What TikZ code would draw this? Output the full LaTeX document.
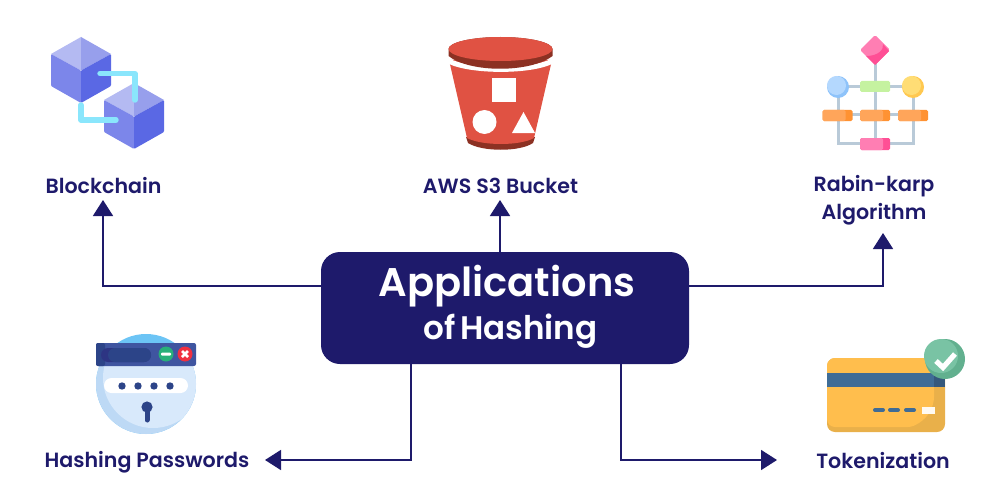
\documentclass[tikz,border=0pt]{standalone}
\usepackage{fontspec}
\setmainfont{Poppins}[BoldFont=Poppins SemiBold]
\usetikzlibrary{arrows.meta,positioning}
\definecolor{navy}{HTML}{1E1A6B}
\definecolor{cubetop}{HTML}{B4BAF2}
\definecolor{cubetopd}{HTML}{979FEC}
\definecolor{cubeleft}{HTML}{7C86EA}
\definecolor{cuberight}{HTML}{5A68E4}
\definecolor{linkblue}{HTML}{8AE6FC}
\definecolor{bucket}{HTML}{E05243}
\definecolor{bucketd}{HTML}{8C3123}
\definecolor{flowline}{HTML}{B9CAD8}
\definecolor{flowpink}{HTML}{FF7EB3}
\definecolor{flowpinkd}{HTML}{FF4F95}
\definecolor{floworange}{HTML}{FFA55A}
\definecolor{floworanged}{HTML}{FF9232}
\definecolor{flowgreen}{HTML}{C5F2A0}
\definecolor{flowblue}{HTML}{B4D8FE}
\definecolor{flowblued}{HTML}{8EC3FA}
\definecolor{flowyellow}{HTML}{FFDD75}
\definecolor{flowyellowd}{HTML}{FFC850}
\definecolor{shield}{HTML}{D8E9FB}
\definecolor{shieldd}{HTML}{BDD9F5}
\definecolor{skyblue}{HTML}{6CC4F5}
\definecolor{barblue}{HTML}{3F55A0}
\definecolor{bardark}{HTML}{2C4488}
\definecolor{cardy}{HTML}{FFBE4D}
\definecolor{cardyd}{HTML}{E9B04A}
\definecolor{stripe}{HTML}{3F6C96}
\definecolor{stripd}{HTML}{35587C}
\definecolor{okgreen}{HTML}{79C3A4}
\definecolor{okgreend}{HTML}{62B08F}
\definecolor{btngreen}{HTML}{27B07A}
\definecolor{btnred}{HTML}{F03040}
\tikzset{
  apptag/.style={text=navy,font=\fontsize{20.6}{28.5}\selectfont\bfseries,align=center,inner sep=0pt},
  hashbox/.style={fill=navy,rounded corners=19pt,minimum width=368pt,minimum height=112pt,inner sep=0pt},
  conn/.style={draw=navy,line width=1.7pt,-{Triangle[length=16pt,width=20pt]}},
  flowbar/.style={line width=3pt,draw=flowline},
  chainlink/.style={draw=linkblue,line width=5.4pt,line cap=round,line join=round},
}
\begin{document}
\begin{tikzpicture}[x=1pt,y=-1pt]
\useasboundingbox (0,0) rectangle (1000,500);

% the centre box
\node[hashbox] (hash) at (505,308) {};
\node[text=white,font=\fontsize{40}{45}\selectfont\bfseries,inner sep=0pt] (title) at (507,286) {Applications};
\node[text=white,font=\fontsize{32.6}{38}\selectfont\bfseries,inner sep=0pt] (sub) at (510.5,331) {of\hspace{-3pt} Hashing};

% labels
\node[apptag] (block) at (103.5,186) {Blockchain};
\node[apptag] (aws) at (500.5,186) {AWS S3 Bucket};
\node[apptag] (rabin) at (874,200) {Rabin-karp\\Algorithm};
\node[apptag] (pass) at (147,462) {Hashing Passwords};
\node[apptag] (token) at (883,461) {Tokenization};

% connectors
\coordinate (blockend) at (103,200);
\coordinate (awsend) at (500,200);
\coordinate (rabinend) at (883,233);
\coordinate (passend) at (265,460);
\coordinate (tokenend) at (777,460);
\draw[conn] (hash.west |- 0,286) -| (blockend);
\draw[conn] (awsend |- hash.north) -- (awsend);
\draw[conn] (hash.east |- 0,286) -| (rabinend);
\draw[conn] (411,364) |- (passend);
\draw[conn] (621,364) |- (tokenend);

% blockchain icon
\fill[cubetop] (81,37) -- (51,54) -- (81,70.5) -- cycle;
\fill[cubetopd] (81,37) -- (111,54) -- (81,70.5) -- cycle;
\fill[cubeleft,rounded corners=1pt] (51,54) -- (81,70.5) -- (81,103) -- (51,86) -- cycle;
\fill[cuberight,rounded corners=1pt] (111,54) -- (81,70.5) -- (81,103) -- (111,86) -- cycle;
\fill[cubetop] (134,83) -- (104,100) -- (134,116.5) -- cycle;
\fill[cubetopd] (134,83) -- (164,100) -- (134,116.5) -- cycle;
\fill[cubeleft,rounded corners=1pt] (104,100) -- (134,116.5) -- (134,149) -- (104,132) -- cycle;
\fill[cuberight,rounded corners=1pt] (164,100) -- (134,116.5) -- (134,149) -- (164,132) -- cycle;
\draw[chainlink] (100,73.5) -- (135,73.5) -- (135,100);
\draw[chainlink] (81,105) -- (81,120) -- (116,120);

% bucket icon
\fill[bucketd] (466,137) -- (535,137) -- (533,143) .. controls (520,152) and (482,152) .. (468,143) -- cycle;
\fill[bucket] (449,60) -- (552,60) -- (534,138) .. controls (520,146) and (482,146) .. (467,138) -- cycle;
\fill[white] (448,58) .. controls (470,70) and (532,70) .. (553,58) -- (552,64) .. controls (530,74.5) and (472,74.5) .. (449,64) -- cycle;
\fill[bucketd] (448.5,49) arc[start angle=180,end angle=360,x radius=52,y radius=12] -- (552.5,56) .. controls (530,73) and (470,73) .. (448.5,56) -- cycle;
\fill[bucket] (500.5,49) ellipse[x radius=52,y radius=12];
\fill[white] (492,78) rectangle (516,102);
\fill[white] (484.5,122) circle[radius=12];
\fill[white] (512,133) -- (535,133) -- (523.5,112) -- cycle;

% flowchart icon
\draw[flowbar] (875,60) -- (875,143);
\draw[flowbar] (838,87) -- (912,87);
\draw[flowbar] (838,87) -- (838,143) -- (913,143) -- (913,87);
\draw[flowbar] (840,115) -- (910,115);
\fill[flowpink,rounded corners=1.5pt] (875,35) -- (890,50) -- (875,65) -- (860,50) -- cycle;
\fill[flowpinkd] (889,51) -- (875,65) -- (866,56) .. controls (878,56) and (884,50) .. (883,44) -- cycle;
\fill[flowblued] (838,87) circle[radius=11];
\fill[flowblue] (836.5,85.5) circle[radius=9.5];
\fill[flowyellowd] (913,87) circle[radius=11];
\fill[flowyellow] (911.5,85.5) circle[radius=9.5];
\fill[flowgreen,rounded corners=1.5pt] (860,81) rectangle (890,92);
\foreach \bx in {822.5,860,898}{
  \fill[floworanged,rounded corners=1.5pt] (\bx,110) rectangle ++(30,11);
  \fill[floworange,rounded corners=1.5pt] (\bx,110) rectangle ++(23,11);
}
\fill[flowpinkd,rounded corners=1.5pt] (860,138) rectangle (890,150);
\fill[flowpink,rounded corners=1.5pt] (860,138) rectangle (883,150);

% password icon
\fill[skyblue] (146,384) circle[radius=50];
\begin{scope}
  \clip (90,365) rectangle (200,440);
  \clip (146,384) circle[radius=50];
  \fill[shieldd] (90,365) rectangle (200,440);
  \fill[shield] (153,378) circle[radius=50];
\end{scope}
\fill[barblue,rounded corners=2pt] (96,343) rectangle (196,366);
\fill[bardark,rounded corners=2pt] (96,343) rectangle (105,366);
\fill[navy!55!barblue,rounded corners=7pt] (101,348) rectangle (151,362);
\fill[bardark,rounded corners=7pt] (108,348) rectangle (151,362);
\fill[btngreen] (166,354) circle[radius=7.5];
\fill[white,rounded corners=1pt] (161,352.5) rectangle (171,355.5);
\fill[btnred] (185,354) circle[radius=7.5];
\draw[white,line width=2.6pt] (182,351) -- (188,357) (182,357) -- (188,351);
\fill[white,rounded corners=7.5pt] (104,378) rectangle (188,393);
\foreach \dx in {122,138,154,170}{
  \fill[bardark] (\dx,386) circle[radius=3.7];
}
\fill[bardark] (147,407) circle[radius=5.6];
\draw[bardark,line width=5pt,line cap=round] (147,407) -- (147,420);

% card icon
\fill[cardyd,rounded corners=8pt] (827,358) rectangle (945,432);
\fill[cardy,rounded corners=8pt] (827,358) -- (934,358) -- (934,405) .. controls (925,420) and (915,427) .. (900,427) -- (827,427) -- cycle;
\fill[stripe] (827,373) rectangle (945,387);
\fill[stripd] (934,373) rectangle (945,387);
\foreach \dx in {875,890,906}{
  \draw[stripe,line width=4pt,line cap=round] (\dx,410) -- ++(8,0);
}
\fill[white!92!cardy] (922,407) rectangle (935,414);
\fill[okgreend] (945,359) circle[radius=20];
\fill[okgreen] (941,356) circle[radius=17];
\draw[white,line width=5.2pt] (936,361) -- (943,367.5) -- (955,354);
\end{tikzpicture}
\end{document}
